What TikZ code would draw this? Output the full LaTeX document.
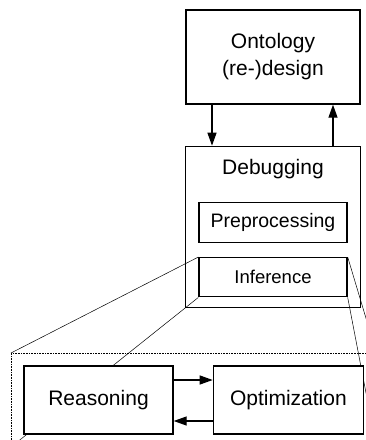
\documentclass[tikz,border=0pt]{standalone}
\usepackage{fontspec}
\setmainfont{Liberation Sans}
\usetikzlibrary{positioning,fit,backgrounds,arrows.meta}

\begin{document}
\begin{tikzpicture}[x=1pt,y=-1pt,font=\fontsize{21}{27}\selectfont,
    every node/.style={inner sep=0pt},
    box/.style={draw,line width=1.4pt,fill=white,align=center},
    zoomline/.style={line width=.5pt},
    >={Triangle[length=13pt,width=9pt]}]
		  \clip (0,0) rectangle (366,440);
		  \node[box,minimum width=174pt,minimum height=94pt] (Onto) at (273,57) {Ontology\\(re-)design};
		  \node[box,fill=none,below=41pt of Onto,minimum width=175pt,minimum height=161pt] (Debug) {};
		  \node[below=13pt of Debug.north] (DebugTitle) {Debugging};
		  \node[box,below=23pt of DebugTitle,minimum width=148pt,minimum height=40pt,font=\fontsize{19.5}{24}\selectfont] (Prep) {Preprocessing};
		  \node[box,below=14pt of Prep,      minimum width=148pt,minimum height=39pt,font=\fontsize{18.5}{23}\selectfont] (Infer) {Inference};
		  \node[box,minimum width=149pt,minimum height=68pt] (Reason) at (98.5,400) {Reasoning};
		  \node[box,right=39pt of Reason,minimum width=150pt,minimum height=68pt] (Optim) {Optimization};

		  \draw[->,line width=1.3pt] ([xshift=-61pt]Onto.south) -- ([xshift=-61pt]Debug.north);
		  \draw[->,line width=1.3pt] ([xshift=60pt]Debug.north) -- ([xshift=60pt]Onto.south);
		  \draw[->,line width=1.3pt] ([yshift=20pt]Reason.east) -- ([yshift=20pt]Optim.west);
		  \draw[->,line width=1.3pt] ([yshift=-21pt]Optim.west) -- ([yshift=-21pt]Reason.east);

		  % zoomed view of the inference step
		  \begin{scope}[on background layer]
		    \node[fit=(Reason)(Optim),inner sep=12pt,draw,densely dotted,line width=.6pt] (Zoom) {};
		    \draw[zoomline] (Infer.north west) -- (Zoom.north west)
		                    (Infer.south west) -- (Zoom.south west)
		                    (Infer.north east) -- (Zoom.north east)
		                    (Infer.south east) -- (Zoom.south east);
		  \end{scope}
	  \end{tikzpicture}
\end{document}
